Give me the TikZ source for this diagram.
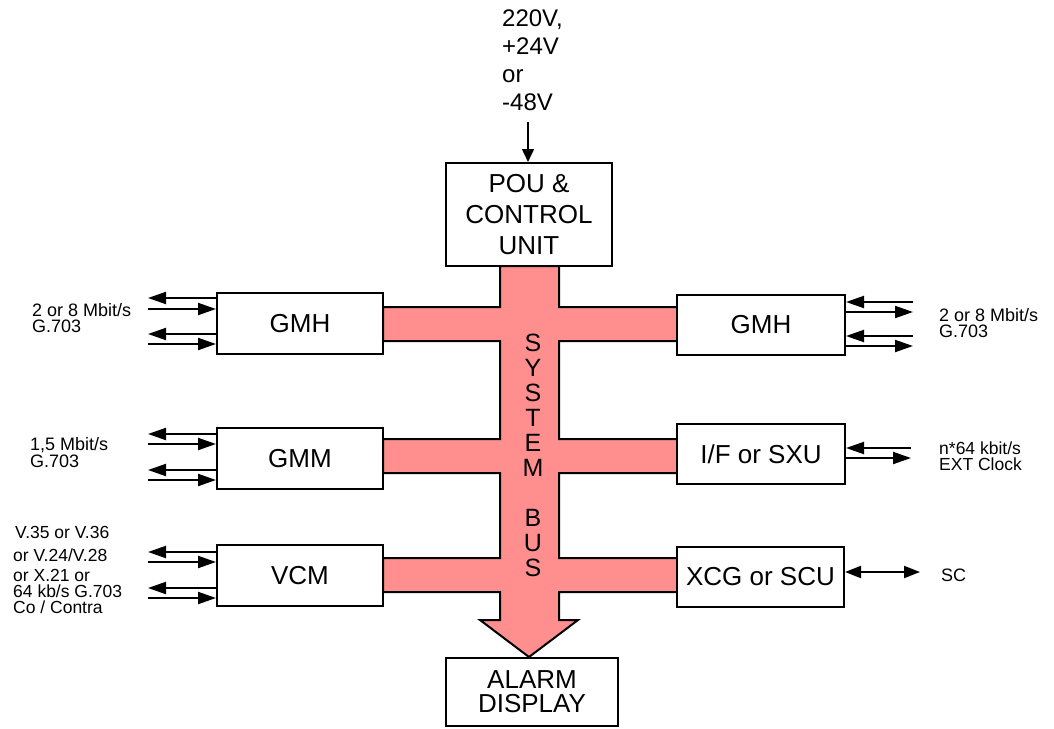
\documentclass[tikz,border=0pt]{standalone}
\usepackage{fontspec}
\setmainfont{Liberation Sans}
\usetikzlibrary{arrows.meta}
\definecolor{buspink}{RGB}{255,143,143}
\begin{document}
\begin{tikzpicture}[x=1pt,y=-1pt,
  blk/.style={draw,line width=2pt,fill=white,inner sep=0pt,align=center,font=\fontsize{26}{31}\selectfont},
  io/.style={line width=2pt,-{Triangle[length=18pt,width=12pt]}},
  lbl/.style={inner sep=0pt,align=left,font=\fontsize{18}{16}\selectfont},
  ln/.style={inner sep=0pt,anchor=base west,font=\fontsize{17.5}{16}\selectfont},
]
\useasboundingbox (0,0) rectangle (1054,728);

% system bus
\draw[line width=2pt,fill=buspink,line join=miter]
  (500,266) -- (500,307) -- (383,307) -- (383,341) -- (500,341)
  -- (500,439) -- (383,439) -- (383,473) -- (500,473)
  -- (500,558) -- (383,558) -- (383,592) -- (500,592)
  -- (500,620) -- (480,620) -- (529,657) -- (578,620) -- (559,620)
  -- (559,592) -- (677,592) -- (677,558) -- (559,558)
  -- (559,473) -- (677,473) -- (677,439) -- (559,439)
  -- (559,341) -- (677,341) -- (677,307) -- (559,307)
  -- (559,266) -- cycle;
\node[inner sep=0pt,align=center,font=\fontsize{25}{25}\selectfont] (bustxt) at (533,455)
  {S\\Y\\S\\T\\E\\M\\[25pt]B\\U\\S};

% boxes
\node[blk,minimum width=166pt,minimum height=103pt] (pou) at (529,214.5) {POU \&\\CONTROL\\UNIT};
\node[blk,minimum width=166pt,minimum height=61pt] (gmhL) at (300,323.5) {GMH};
\node[blk,minimum width=166pt,minimum height=61pt] (gmm) at (300,458.5) {GMM};
\node[blk,minimum width=166pt,minimum height=61pt] (vcm) at (300,575.5) {VCM};
\node[blk,minimum width=168pt,minimum height=60pt] (gmhR) at (761,325) {GMH};
\node[blk,minimum width=168pt,minimum height=60pt] (ifsxu) at (761,454) {I/F or SXU};
\node[blk,minimum width=167pt,minimum height=60pt] (xcg) at (760.5,577) {XCG or SCU};
\node[blk,minimum width=172pt,minimum height=68pt,font=\fontsize{26}{24}\selectfont] (alarm) at (532,692) {ALARM\\DISPLAY};

% power input
\node[inner sep=0pt,anchor=north west,align=left,font=\fontsize{24}{28}\selectfont] (pwrtxt) at (502,10) {220V,\\+24V\\or\\-48V};
\coordinate (pwr) at (528,122);
\draw[line width=1.5pt,-{Triangle[length=13pt,width=12pt]}] (pwr) -- (pou.north -| pwr);

% left GMH
\coordinate (a1) at (148,298); \draw[io] (gmhL.west |- a1) -- (a1);
\coordinate (a2) at (148,309); \draw[io] (a2) -- (gmhL.west |- a2);
\coordinate (a3) at (148,334); \draw[io] (gmhL.west |- a3) -- (a3);
\coordinate (a4) at (148,344); \draw[io] (a4) -- (gmhL.west |- a4);
\node[lbl,anchor=north west] (t1) at (32,303) {2 or 8 Mbit/s\\G.703};

% left GMM
\coordinate (b1) at (148,434); \draw[io] (gmm.west |- b1) -- (b1);
\coordinate (b2) at (148,444); \draw[io] (b2) -- (gmm.west |- b2);
\coordinate (b3) at (148,470); \draw[io] (gmm.west |- b3) -- (b3);
\coordinate (b4) at (148,480); \draw[io] (b4) -- (gmm.west |- b4);
\node[lbl,anchor=north west,font=\fontsize{18}{17}\selectfont] (t2) at (30,437) {1,5 Mbit/s\\G.703};

% left VCM
\coordinate (c1) at (148,552); \draw[io] (vcm.west |- c1) -- (c1);
\coordinate (c2) at (148,562); \draw[io] (c2) -- (vcm.west |- c2);
\coordinate (c3) at (148,588); \draw[io] (vcm.west |- c3) -- (c3);
\coordinate (c4) at (148,598); \draw[io] (c4) -- (vcm.west |- c4);
\node[ln] (t3a) at (15,538) {V.35 or V.36};
\node[ln] (t3b) at (13,561) {or V.24/V.28};
\node[ln] (t3c) at (13,581) {or X.21 or};
\node[ln] (t3d) at (13,597.5) {64 kb/s G.703};
\node[ln] (t3e) at (13,613.5) {Co / Contra};

% right GMH
\coordinate (d1) at (913,302); \draw[io] (d1) -- (gmhR.east |- d1);
\coordinate (d2) at (913,312); \draw[io] (gmhR.east |- d2) -- (d2);
\coordinate (d3) at (913,336); \draw[io] (d3) -- (gmhR.east |- d3);
\coordinate (d4) at (913,346); \draw[io] (gmhR.east |- d4) -- (d4);
\node[lbl,anchor=north west] (t4) at (939,308) {2 or 8 Mbit/s\\G.703};

% right I/F
\coordinate (e1) at (911,448); \draw[io] (e1) -- (ifsxu.east |- e1);
\coordinate (e2) at (911,458); \draw[io] (ifsxu.east |- e2) -- (e2);
\node[lbl,anchor=north west,font=\fontsize{17.5}{15.5}\selectfont] (t5) at (939,442) {n*64 kbit/s\\EXT Clock};

% SC
\coordinate (f1) at (920,572);
\draw[line width=2pt,{Triangle[length=16pt,width=12pt]}-{Triangle[length=16pt,width=12pt]}] (xcg.east |- f1) -- (f1);
\node[ln,font=\fontsize{18}{16}\selectfont] (t6) at (941,581) {SC};
\end{tikzpicture}
\end{document}
